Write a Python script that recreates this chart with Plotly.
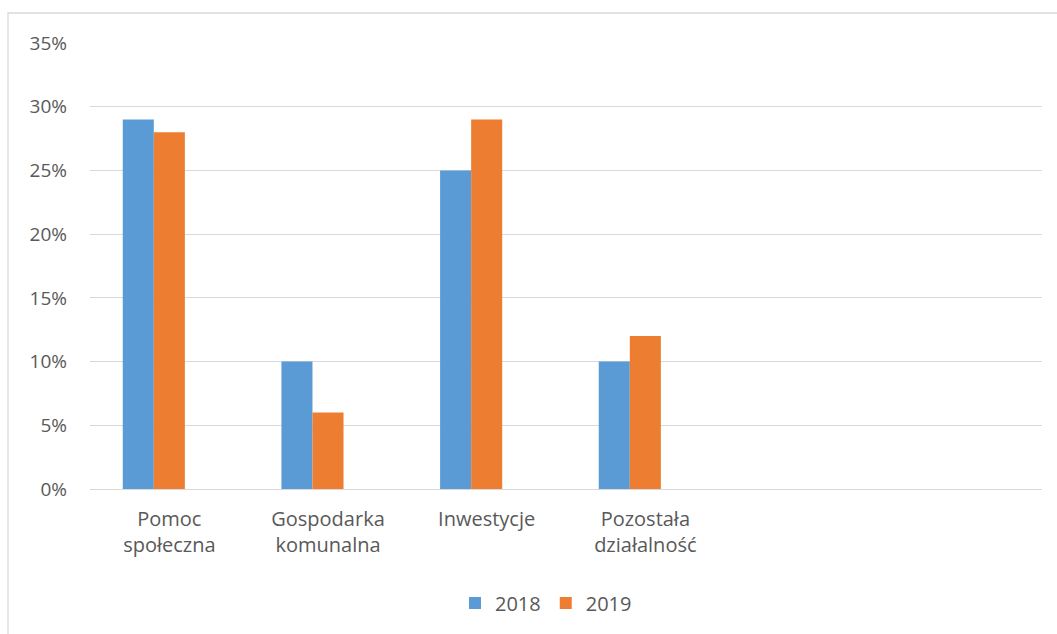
import plotly.graph_objects as go

categories = ["Pomoc<br>społeczna", "Gospodarka<br>komunalna", "Inwestycje", "Pozostała<br>działalność", " ", "  "]
values_2018 = [0.29, 0.10, 0.25, 0.10, None, None]
values_2019 = [0.28, 0.06, 0.29, 0.12, None, None]
values_empty = [None, None, None, None, None, None]
y_ticks = [0, 0.05, 0.10, 0.15, 0.20, 0.25, 0.30, 0.35]

FONT = "Open Sans"
TXT = "#595959"
GRID = "#D9D9D9"

fig = go.Figure()
fig.add_trace(go.Bar(x=categories, y=values_2018, name="2018", marker=dict(color="#5B9BD5", line=dict(width=0))))
fig.add_trace(go.Bar(x=categories, y=values_2019, name="2019", marker=dict(color="#ED7D31", line=dict(width=0))))
fig.add_trace(go.Bar(x=categories, y=values_empty, name="", showlegend=False, marker=dict(color="#A5A5A5")))

W, H = 1057, 634
L, R, T, B = 90, 15, 43, 145
pw = W - L - R
ph = H - T - B

fig.update_layout(
    width=W, height=H,
    margin=dict(l=L, r=R, t=T, b=B, pad=0),
    paper_bgcolor="white", plot_bgcolor="white",
    barmode="group", bargap=0.413, bargroupgap=0,
    font=dict(family=FONT, size=19, color=TXT),
    showlegend=True,
    legend=dict(orientation="h", x=(546 - L) / pw, xanchor="center",
                y=(H - B - 603) / ph, yanchor="middle",
                font=dict(family=FONT, size=20, color=TXT),
                itemwidth=30, traceorder="normal"),
    xaxis=dict(type="category", showgrid=False, showline=False, ticks="",
               tickfont=dict(family=FONT, size=20, color=TXT),
               ticklabelstandoff=16, fixedrange=True),
    yaxis=dict(range=[0, 0.35], tickvals=y_ticks, tickformat=".0%",
               showgrid=True, gridcolor=GRID, gridwidth=1.3,
               zeroline=True, zerolinecolor=GRID, zerolinewidth=1.3,
               showline=False, ticks="",
               tickfont=dict(family=FONT, size=19, color=TXT),
               ticklabelstandoff=22, fixedrange=True),
    shapes=[dict(type="rect", xref="paper", yref="paper",
                 x0=(8 - L) / pw, x1=(W + 20 - L) / pw,
                 y0=(H - B - (H + 20)) / ph, y1=(H - B - 13) / ph,
                 line=dict(color=GRID, width=1.3), fillcolor="rgba(0,0,0,0)", layer="below")],
)

fig.write_html("out.html", config={"displayModeBar": False},
               post_script="document.body.style.margin='0';document.body.style.overflow='hidden';")
